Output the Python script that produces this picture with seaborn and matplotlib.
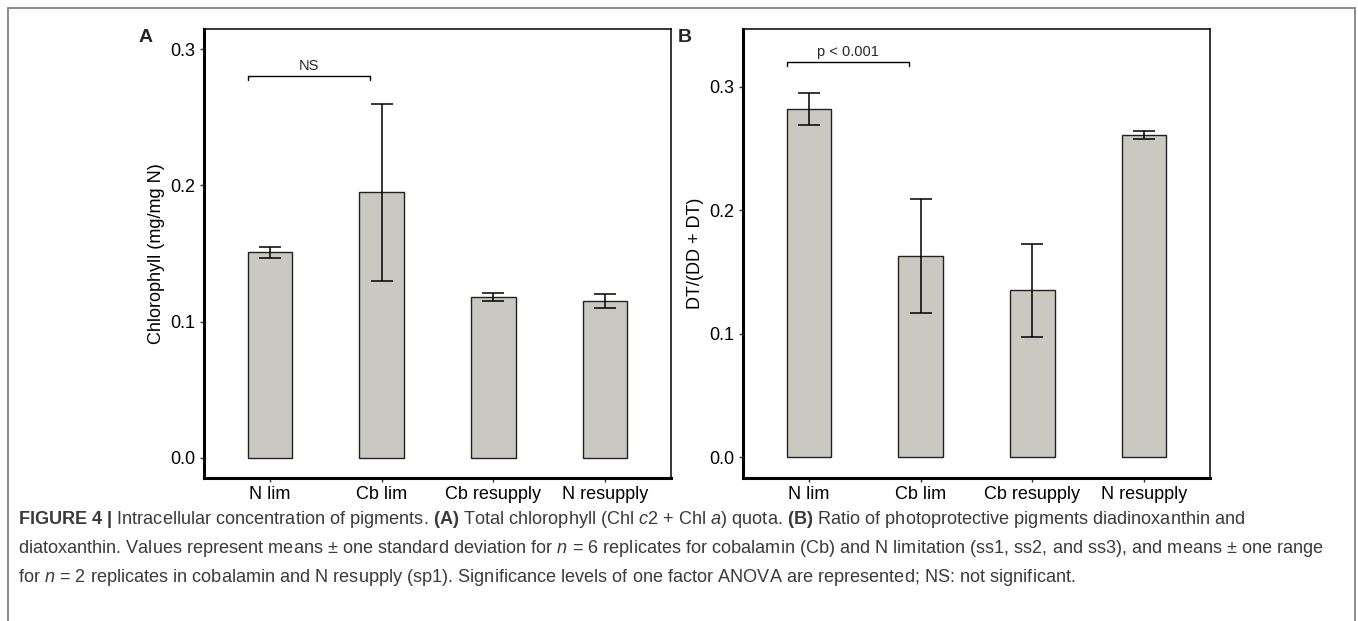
import pandas as pd
import seaborn as sns
import matplotlib.pyplot as plt
from matplotlib.patches import Rectangle

# Values
categories = ["N lim", "Cb lim", "Cb resupply", "N resupply"]
chl_mean = [0.151, 0.195, 0.118, 0.115]
chl_err = [0.004, 0.065, 0.003, 0.005]
ratio_mean = [0.282, 0.163, 0.135, 0.261]
ratio_err = [0.013, 0.046, 0.038, 0.003]

sns.set_theme(style="white")
plt.rcParams["font.family"] = ["Liberation Sans", "DejaVu Sans"]

cap_font = "Liberation Sans"
plt.rcParams["mathtext.fontset"] = "custom"
plt.rcParams["mathtext.rm"] = cap_font
plt.rcParams["mathtext.it"] = cap_font + ":italic"
plt.rcParams["mathtext.bf"] = cap_font + ":bold"

df_a = pd.DataFrame({"condition": categories, "value": chl_mean})
df_b = pd.DataFrame({"condition": categories, "value": ratio_mean})

fig = plt.figure(figsize=(13.58, 6.21), dpi=100)
ax_a = fig.add_axes([0.1502, 0.2303, 0.3439, 0.7230])
ax_b = fig.add_axes([0.5471, 0.2303, 0.3439, 0.7230])

bar_color = "#c9c9c2"


def draw_panel(ax, df, err, ylim, yticks, ylabel, letter, sig_text, sig_y):
    sns.barplot(data=df, x="condition", y="value", ax=ax, color=bar_color,
                width=0.4, edgecolor="#222222", linewidth=1.0, errorbar=None,
                saturation=1)
    ax.errorbar(range(len(df)), df["value"], yerr=err, fmt="none",
                ecolor="black", elinewidth=1.1, capsize=8, capthick=1.1)
    ax.set_xlim(-0.59, 3.59)
    ax.set_ylim(*ylim)
    ax.set_yticks(yticks)
    ax.set_yticklabels([f"{t:.1f}" for t in yticks])
    ax.set_xlabel("")
    ax.set_ylabel(ylabel, fontsize=13, color="black", labelpad=4)
    ax.tick_params(axis="both", direction="out", length=3, width=1,
                   color="#333333", labelsize=13, labelcolor="black",
                   bottom=True, left=True, pad=3)
    for side in ["left", "bottom"]:
        ax.spines[side].set_linewidth(2.2)
        ax.spines[side].set_color("black")
    for side in ["top", "right"]:
        ax.spines[side].set_linewidth(1.1)
        ax.spines[side].set_color("black")
    # significance bracket
    dy = (ylim[1] - ylim[0]) * 0.008
    ax.plot([-0.2, -0.2, 0.9, 0.9], [sig_y - dy, sig_y, sig_y, sig_y - dy],
            color="black", lw=1.0)
    ax.text(0.35, sig_y + dy * 0.8, sig_text, ha="center", va="bottom",
            fontsize=10.5)
    ax.text(-0.125, 1.0, letter, transform=ax.transAxes, fontsize=14,
            fontweight="bold", ha="center", va="top")


draw_panel(ax_a, df_a, chl_err, (-0.0147, 0.3147), [0.0, 0.1, 0.2, 0.3],
           "Chlorophyll (mg/mg N)", "A", "NS", 0.280)
draw_panel(ax_b, df_b, ratio_err, (-0.017, 0.347), [0.0, 0.1, 0.2, 0.3],
           "DT/(DD + DT)", "B", "p < 0.001", 0.320)

# outer frame
fig.patches.append(Rectangle((8 / 1358, -0.05), 1347 / 1358, 1.05 - 8 / 621,
                             transform=fig.transFigure, fill=False,
                             edgecolor="#8a8a8a", lw=1.4))

lines = [
    r"$\mathbf{FIGURE\ 4\ |}$ Intracellular concentration of pigments. $\mathbf{(A)}$ Total chlorophyll (Chl $\mathit{c2}$ + Chl $\mathit{a}$) quota. $\mathbf{(B)}$ Ratio of photoprotective pigments diadinoxanthin and",
    r"diatoxanthin. Values represent means $\pm$ one standard deviation for $\mathit{n}$ = 6 replicates for cobalamin (Cb) and N limitation (ss1, ss2, and ss3), and means $\pm$ one range",
    r"for $\mathit{n}$ = 2 replicates in cobalamin and N resupply (sp1). Significance levels of one factor ANOVA are represented; NS: not significant.",
]
for i, line in enumerate(lines):
    fig.text(18 / 1358, 1 - (519 + 29.5 * i) / 621, line, ha="left",
             va="center", fontsize=13.1, family=cap_font, color="#3a3a3a")

fig.savefig("out.png", dpi=100)
